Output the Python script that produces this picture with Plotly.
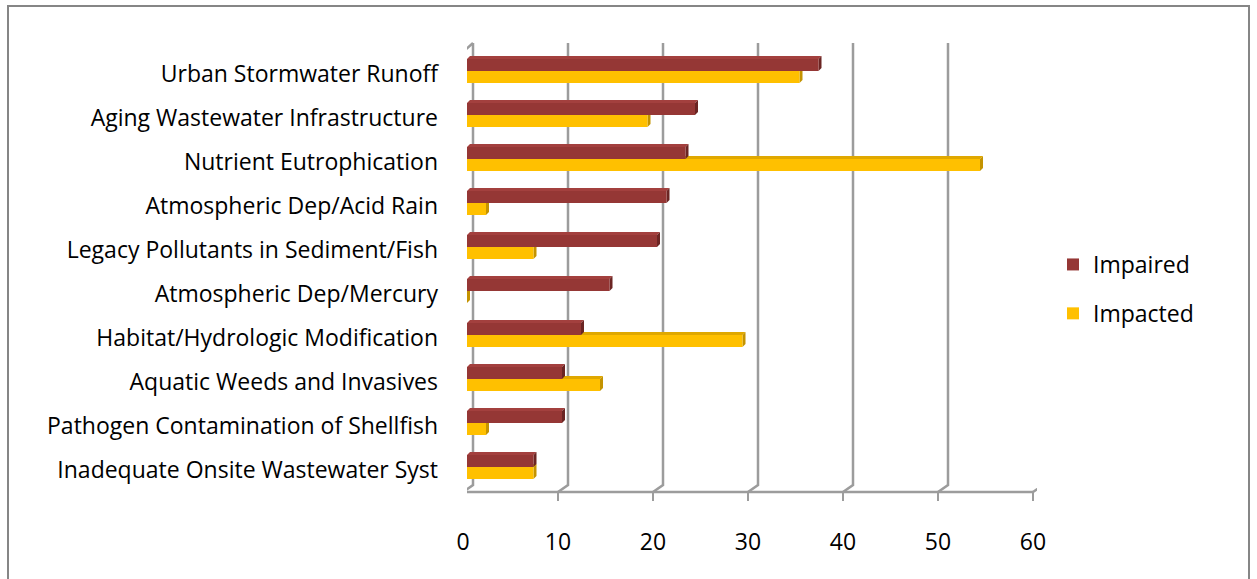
import plotly.graph_objects as go

categories = [
    "Urban Stormwater Runoff",
    "Aging Wastewater Infrastructure",
    "Nutrient Eutrophication",
    "Atmospheric Dep/Acid Rain",
    "Legacy Pollutants in Sediment/Fish",
    "Atmospheric Dep/Mercury",
    "Habitat/Hydrologic Modification",
    "Aquatic Weeds and Invasives",
    "Pathogen Contamination of Shellfish",
    "Inadequate Onsite Wastewater Syst",
]
impaired = [37, 24, 23, 21, 20, 15, 12, 10, 10, 7]
impacted = [35, 19, 54, 2, 7, 0, 29, 14, 2, 7]
x_ticks = [0, 10, 20, 30, 40, 50, 60]

# layout geometry (pixels)
W, H = 1257, 579
PL, PR, PT, PB = 467, 1037, 52, 492
PW, PH = PR - PL, PB - PT
XMAX = 60
UNIT = PW / XMAX          # px per data unit
BAND = PH / len(categories)

RED, RED_SIDE, RED_TOP = "#953735", "#6b2523", "#a3403e"
YEL, YEL_SIDE, YEL_TOP = "#FFC000", "#c49300", "#e0a800"
GRID = "#9c9c9c"
FONT = "Open Sans"
FSIZE = 23

# bar geometry in category units / pixels
FACE = 12
red_off_px, yel_off_px = -15, -3
DEPTH_X, DEPTH_Y = 3, 3

fig = go.Figure()
fig.add_trace(go.Bar(
    y=list(range(len(categories))), x=impaired, orientation="h", name="Impaired",
    marker=dict(color=RED, line=dict(width=0)),
    offset=red_off_px / BAND, width=FACE / BAND, legendgroup="a",
))
fig.add_trace(go.Bar(
    y=list(range(len(categories))), x=impacted, orientation="h", name="Impacted",
    marker=dict(color=YEL, line=dict(width=0)),
    offset=yel_off_px / BAND, width=FACE / BAND, legendgroup="b",
))

shapes = []
# back wall gridlines with 3D floor diagonal
for v in x_ticks:
    shapes.append(dict(
        type="path", layer="below", xref="x", yref="paper",
        xsizemode="pixel", ysizemode="pixel", xanchor=v, yanchor=0,
        path=f"M -4,0 L 6,7 L 6,{PB-43}",
        line=dict(color=GRID, width=2.5),
    ))
    # bottom tick marks
    shapes.append(dict(
        type="line", layer="below", xref="x", yref="paper",
        xsizemode="pixel", ysizemode="pixel", xanchor=v, yanchor=0,
        x0=-4, x1=-4, y0=0, y1=-9,
        line=dict(color=GRID, width=2),
    ))
# floor front line
shapes.append(dict(
    type="line", layer="below", xref="x", yref="paper",
    xsizemode="pixel", ysizemode="pixel", xanchor=0, yanchor=0,
    x0=-4, x1=PW - 4, y0=0, y1=0, line=dict(color=GRID, width=2.5),
))
# left axis with top slant
shapes.append(dict(
    type="path", layer="below", xref="x", yref="paper",
    xsizemode="pixel", ysizemode="pixel", xanchor=0, yanchor=0,
    path=f"M -4,0 L -4,{PH} L 6,{PB-43}",
    line=dict(color=GRID, width=2.5),
))
# left axis ticks at category boundaries
for k in range(len(categories) + 1):
    shapes.append(dict(
        type="line", layer="below", xref="x", yref="paper",
        xsizemode="pixel", xanchor=0,
        x0=-12, x1=-4, y0=k / len(categories), y1=k / len(categories),
        line=dict(color=GRID, width=2),
    ))

dxu = DEPTH_X / UNIT
# 3D faces of bars
for vals, off, side, top in [(impacted, yel_off_px, YEL_SIDE, YEL_TOP),
                             (impaired, red_off_px, RED_SIDE, RED_TOP)]:
    for i, v in enumerate(vals):
        up_top = -off            # pixel-up coordinate of front-face top
        up_bot = -off - FACE
        # top face (x in data, y in pixels)
        shapes.append(dict(
            type="path", layer="below", xref="x", yref="y",
            ysizemode="pixel", yanchor=i,
            path=(f"M 0,{up_top} L {dxu},{up_top + DEPTH_Y} "
                  f"L {v + dxu},{up_top + DEPTH_Y} L {v},{up_top} Z"),
            fillcolor=top, line=dict(width=0),
        ))
        # side face
        shapes.append(dict(
            type="path", layer="below", xref="x", yref="y",
            xsizemode="pixel", ysizemode="pixel", xanchor=v, yanchor=i,
            path=(f"M 0,{up_top} L {DEPTH_X},{up_top + DEPTH_Y} "
                  f"L {DEPTH_X},{up_bot + DEPTH_Y} L 0,{up_bot} Z"),
            fillcolor=side, line=dict(width=0),
        ))

# outer chart border
def px2x(p):
    return (p - PL) / PW
def px2y(p):
    return (PB - p) / PH
shapes.append(dict(
    type="rect", xref="paper", yref="paper",
    x0=px2x(8), x1=px2x(1249), y0=px2y(6), y1=px2y(600),
    line=dict(color="#868686", width=2), fillcolor="rgba(0,0,0,0)",
))

fig.update_layout(
    width=W, height=H,
    margin=dict(l=PL, r=W - PR, t=PT, b=H - PB, pad=0),
    paper_bgcolor="white", plot_bgcolor="white",
    barmode="overlay",
    font=dict(family=FONT, size=FSIZE, color="#000000"),
    shapes=shapes,
    showlegend=True,
    legend=dict(
        x=px2x(1053), y=px2y(243), xanchor="left", yanchor="top",
        font=dict(family=FONT, size=FSIZE), tracegroupgap=16,
        traceorder="grouped", bgcolor="rgba(0,0,0,0)",
    ),
    xaxis=dict(
        range=[0, XMAX], tickvals=x_ticks, ticktext=[str(t) for t in x_ticks],
        showgrid=False, zeroline=False, showline=False, ticks="",
        ticklabelshift=-4, ticklabelstandoff=34, fixedrange=True,
    ),
    yaxis=dict(
        range=[len(categories) - 0.5, -0.5],
        tickvals=list(range(len(categories))), ticktext=categories,
        showgrid=False, zeroline=False, showline=False, ticks="",
        ticklabelstandoff=28, fixedrange=True,
    ),
)

fig.write_html("out.html")
